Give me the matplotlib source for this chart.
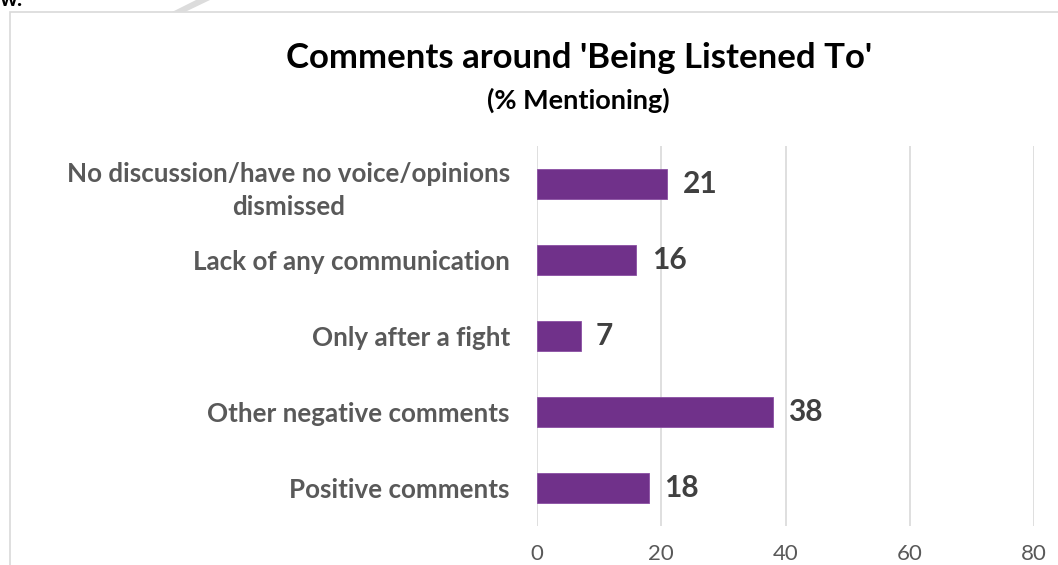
import matplotlib.pyplot as plt
from matplotlib.patches import Rectangle, Polygon

categories = ["No discussion/have no voice/opinions\ndismissed",
              "Lack of any communication",
              "Only after a fight",
              "Other negative comments",
              "Positive comments"]
values = [21, 16, 7, 38, 18]
xticks = [0, 20, 40, 60, 80]

plt.rcParams['font.family'] = ['Lato', 'DejaVu Sans']

fig = plt.figure(figsize=(10.58, 5.65), dpi=100)
ax = fig.add_axes([0.5076, 0.069, 0.4697, 0.6726])

purple = '#70318A'
dark = '#404040'

y = list(range(len(categories)))
ax.barh(y, values, height=0.4, color=purple, edgecolor='#8a4fa3', linewidth=0.6, zorder=3)
ax.set_ylim(len(categories) - 0.5, -0.5)
ax.set_xlim(0, 80)
ax.set_xticks(xticks)
ax.set_xticklabels([str(t) for t in xticks], fontsize=16, color='#595959')
ax.set_yticks(y)
ax.set_yticklabels(categories, fontsize=18.7, fontweight='bold', color='#595959',
                   multialignment='center', linespacing=1.45)
ax.tick_params(axis='both', length=0)
ax.tick_params(axis='y', pad=19.5)
ax.tick_params(axis='x', pad=13)
ax.grid(True, axis='x', color='#D9D9D9', linewidth=1.2, zorder=0)
for s in ax.spines.values():
    s.set_visible(False)

for yi, v in zip(y, values):
    ax.annotate(str(v), (v, yi), xytext=(11, 0), textcoords='offset points',
                ha='left', va='center', fontsize=21.5, fontweight='bold', color=dark)

fig.text(0.547, 0.897, "Comments around 'Being Listened To'", ha='center', va='center',
         fontsize=25, fontweight='bold', color='black')
fig.text(0.547, 0.823, "(% Mentioning)", ha='center', va='center',
         fontsize=19.5, fontweight='bold', color='black')

# chart frame and page fragments
fig.patches.append(Rectangle((10 / 1058, -0.1), 1.2, 1 - 12 / 565 + 0.1,
                             transform=fig.transFigure, fill=False,
                             edgecolor='#D9D9D9', linewidth=1.2))
fig.patches.append(Polygon([(172 / 1058, 1 - 12 / 565), (185 / 1058, 1 - 12 / 565),
                            (210 / 1058, 1.0), (196 / 1058, 1.0)],
                           closed=True, transform=fig.transFigure,
                           facecolor='#DCDCDC', edgecolor='none'))
fig.text(0.0, 1.0, "w.", ha='left', va='center', fontsize=16, fontweight='bold', color='black')

fig.savefig('out.png', dpi=100)
